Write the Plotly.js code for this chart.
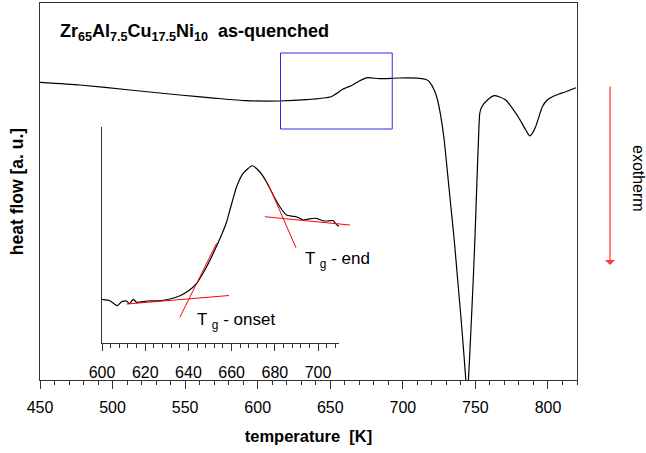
<!DOCTYPE html>
<html>
<head>
<meta charset="utf-8">
<script src="https://cdn.plot.ly/plotly-3.0.1.min.js"></script>
<style>html,body{margin:0;padding:0;background:#fff;}#chart{width:646px;height:453px;}</style>
</head>
<body>
<div id="chart"></div>
<script>
// ---- main DSC trace (temperature K, heat flow a.u.) ----
var mainT = [450, 477.5, 511.9, 546.3, 571.5, 592.1, 615.0, 633.4, 650.6, 658.6, 665.4, 670.0, 675.7, 683.8, 697.5, 711.3, 716.0, 718.2, 721.6, 723.9, 726.2, 728.5, 730.8, 733.1, 735.4, 737.6, 740.0, 742.2, 743.4, 744.3, 745.2, 746.8, 748.4, 749.8, 751.0, 752.1, 753.0, 754.4, 758.3, 762.9, 766.3, 770.9, 775.5, 780.1, 784.7, 787.4, 789.2, 791.5, 793.8, 796.1, 799.5, 803.0, 807.6, 812.2, 819.3];
var mainHF = [297.7, 295, 290, 285, 281.7, 279.3, 279, 280.3, 283.3, 290.7, 295, 299, 302.3, 301.3, 302, 301.7, 300.5, 298.3, 290, 280, 263.3, 240, 206.7, 173.3, 140, 103.3, 63.3, 23.3, 0, -18, 0, 46.7, 96.7, 146.7, 196.7, 240, 266.7, 273.3, 280, 284.3, 283.3, 280, 271.7, 261.7, 250, 244, 246.7, 253.3, 263.3, 273.3, 280, 283.3, 286, 288.3, 292.3];

// ---- inset (glass transition region) ----
var insetT = [600, 603.7, 607.1, 609.1, 611.4, 612.6, 614.5, 616.0, 620.7, 626.8, 631.4, 636.1, 639.9, 643.8, 647.6, 651.5, 655.3, 657.7, 659.2, 662.3, 665.3, 669.5, 673.0, 676.1, 679.2, 682.3, 685.4, 688.0, 690.0, 693.1, 696.0, 699.3, 702.3, 703.9, 706.9, 707.7, 709.2, 709.8];
var insetHF = [43.7, 42.3, 37.3, 41.3, 42, 39.3, 43.7, 40.7, 42, 42.3, 44, 47.3, 52, 59.7, 73, 89.7, 108, 121.3, 133, 156.3, 169.7, 177.3, 171.3, 161.3, 148, 136.3, 128, 126.8, 126.3, 123, 124.2, 124.7, 122.3, 122, 122.5, 120.7, 117.3, 117];

// tangent construction lines (inset coordinates)
var onsetBaseT = [611.4, 658.7], onsetBaseHF = [39, 47.5];
var onsetSlopeT = [636.0, 653.0], onsetSlopeHF = [25.7, 99.7];
var endBaseT = [675.3, 714.7], endBaseHF = [126.3, 118];
var endSlopeT = [676.9, 689.7], endSlopeHF = [158.7, 95.3];

// zoom window marked on the main curve
var windowT = [615.7, 692.7], windowHF = [251, 327];

var FONT = 'Liberation Sans, Arial, Helvetica, sans-serif';
var AX = '#333';

var traces = [
  {x: mainT, y: mainHF, xaxis: 'x', yaxis: 'y', mode: 'lines', line: {color: '#000', width: 1.2, shape: 'spline', smoothing: 0.5}, hoverinfo: 'skip'},
  {x: insetT, y: insetHF, xaxis: 'x2', yaxis: 'y2', mode: 'lines', line: {color: '#000', width: 1.2, shape: 'spline', smoothing: 0.5}, hoverinfo: 'skip'},
  {x: onsetBaseT, y: onsetBaseHF, xaxis: 'x3', yaxis: 'y2', mode: 'lines', line: {color: '#ff0000', width: 1}},
  {x: onsetSlopeT, y: onsetSlopeHF, xaxis: 'x3', yaxis: 'y2', mode: 'lines', line: {color: '#ff0000', width: 1}},
  {x: endBaseT, y: endBaseHF, xaxis: 'x3', yaxis: 'y2', mode: 'lines', line: {color: '#ff0000', width: 1}},
  {x: endSlopeT, y: endSlopeHF, xaxis: 'x3', yaxis: 'y2', mode: 'lines', line: {color: '#ff0000', width: 1}}
];

var layout = {
  width: 646, height: 453,
  margin: {l: 40, r: 69, t: 3, b: 73},
  paper_bgcolor: '#fff', plot_bgcolor: 'rgba(0,0,0,0)',
  showlegend: false,
  font: {family: FONT, color: '#000', size: 16},
  xaxis: {
    domain: [0, 1], range: [450, 820],
    showline: true, linecolor: AX, linewidth: 1, mirror: true,
    ticks: 'outside', ticklen: 8, tickwidth: 1, tickcolor: AX,
    tick0: 450, dtick: 50, ticklabelstandoff: 5,
    minor: {ticks: 'outside', dtick: 10, tick0: 450, ticklen: 4, tickwidth: 1, tickcolor: AX, showgrid: false},
    showgrid: false, zeroline: false,
    tickfont: {family: FONT, size: 16, color: '#000'},
    title: {text: '<b>temperature&nbsp; [K]</b>', font: {family: FONT, size: 16.5, color: '#000'}, standoff: 15}
  },
  yaxis: {
    domain: [0, 1], range: [0, 377],
    showline: true, linecolor: AX, linewidth: 1, mirror: true,
    ticks: '', showticklabels: false, showgrid: false, zeroline: false,
    title: {text: '<b>heat flow [a. u.]</b>', font: {family: FONT, size: 17.5, color: '#000'}, standoff: 10}
  },
  xaxis2: {
    anchor: 'y2', domain: [0.1155, 0.5568], range: [600, 709.7],
    showline: true, linecolor: AX, linewidth: 1,
    ticks: 'outside', ticklen: 7, tickwidth: 1, tickcolor: AX,
    tick0: 600, dtick: 20, ticklabelstandoff: 8,
    minor: {ticks: 'outside', dtick: 4, tick0: 600, ticklen: 4, tickwidth: 1, tickcolor: AX, showgrid: false},
    showgrid: false, zeroline: false,
    tickfont: {family: FONT, size: 16, color: '#000'}
  },
  xaxis3: {
    anchor: 'y2', domain: [0.1155, 0.5785], range: [600, 715],
    visible: false, showgrid: false, zeroline: false
  },
  yaxis2: {
    anchor: 'x2', domain: [0.0981, 0.671], range: [0, 216],
    showline: true, linecolor: AX, linewidth: 1,
    ticks: '', showticklabels: false, showgrid: false, zeroline: false
  },
  shapes: [
    {type: 'rect', xref: 'x', yref: 'y', x0: windowT[0], x1: windowT[1], y0: windowHF[0], y1: windowHF[1],
     line: {color: '#2a2ae6', width: 1}, fillcolor: 'rgba(0,0,0,0)'}
  ],
  annotations: [
    {xref: 'paper', yref: 'paper', x: 0.0335, y: 0.923, xanchor: 'left', yanchor: 'middle', showarrow: false,
     text: '<b>Zr<sub>65</sub>Al<sub>7.5</sub>Cu<sub>17.5</sub>Ni<sub>10</sub>&nbsp; as-quenched</b>',
     font: {family: FONT, size: 18, color: '#000'}},
    {xref: 'x2', yref: 'y2', x: 643.0, y: 22, xanchor: 'left', yanchor: 'middle', showarrow: false,
     text: 'T <sub>g</sub> - onset', font: {family: FONT, size: 17, color: '#000'}},
    {xref: 'x2', yref: 'y2', x: 693.1, y: 83, xanchor: 'left', yanchor: 'middle', showarrow: false,
     text: 'T <sub>g</sub> - end', font: {family: FONT, size: 17, color: '#000'}},
    {xref: 'paper', yref: 'paper', x: 1.0615, y: 0.305, showarrow: true, ax: 0, ay: -180,
     arrowcolor: 'rgb(255,60,60)', arrowwidth: 1.3, arrowhead: 1, arrowsize: 1.3, text: ''},
    {xref: 'paper', yref: 'paper', x: 1.1155, y: 0.5358, xanchor: 'center', yanchor: 'middle', showarrow: false,
     textangle: 90, text: 'exotherm', font: {family: FONT, size: 16, color: '#000'}}
  ]
};

Plotly.newPlot('chart', traces, layout, {displayModeBar: false, staticPlot: true});
</script>
</body>
</html>
